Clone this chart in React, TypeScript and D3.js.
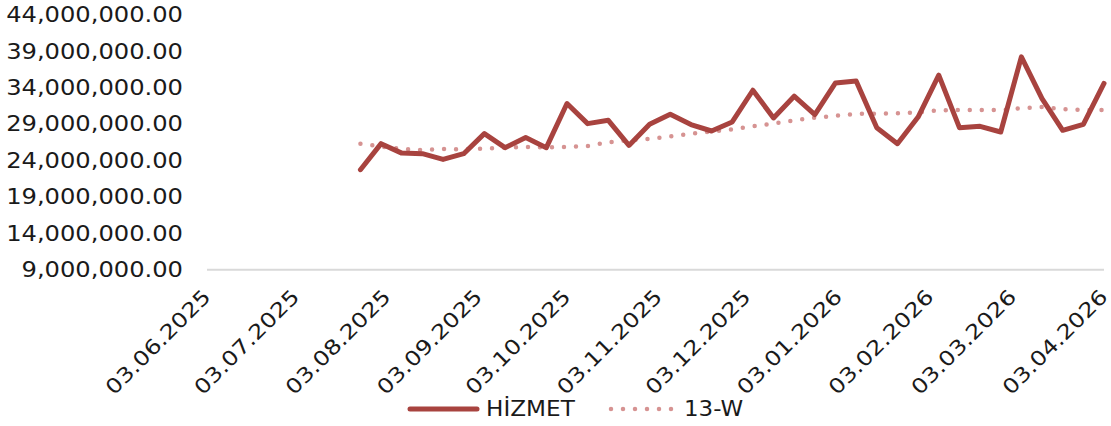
import React from "react";
import * as d3 from "d3";

const dates: string[] = [
  "2025-07-25","2025-08-01","2025-08-08","2025-08-15","2025-08-22","2025-08-29",
  "2025-09-05","2025-09-12","2025-09-19","2025-09-26","2025-10-03","2025-10-10",
  "2025-10-17","2025-10-24","2025-10-31","2025-11-07","2025-11-14","2025-11-21",
  "2025-11-28","2025-12-05","2025-12-12","2025-12-19","2025-12-26","2026-01-02",
  "2026-01-09","2026-01-16","2026-01-23","2026-01-30","2026-02-06","2026-02-13",
  "2026-02-20","2026-02-27","2026-03-06","2026-03-13","2026-03-20","2026-03-27",
  "2026-04-03",
];

const hizmet: number[] = [
  22.74, 26.32, 25.02, 24.94, 24.16, 24.94, 27.70, 25.77, 27.15, 25.77,
  31.83, 29.07, 29.53, 26.08, 28.98, 30.36, 28.94, 28.06, 29.30, 33.66,
  29.85, 32.84, 30.31, 34.67, 34.94, 28.52, 26.32, 29.98, 35.73, 28.52,
  28.70, 27.92, 38.25, 32.52, 28.15, 28.98, 34.59,
].map((v) => v * 1e6);

const w13: number[] = [
  26.32, 25.92, 25.58, 25.44, 25.58, 25.56, 25.64, 25.81, 25.85, 25.81,
  25.86, 26.00, 26.50, 26.80, 26.97, 27.32, 27.70, 27.97, 28.29, 28.73,
  29.09, 29.52, 29.89, 30.15, 30.41, 30.45, 30.48, 30.60, 30.91, 30.95,
  30.95, 30.93, 31.20, 31.36, 31.07, 30.95, 30.95,
].map((v) => v * 1e6);

const xTickLabels: string[] = [
  "03.06.2025","03.07.2025","03.08.2025","03.09.2025","03.10.2025","03.11.2025",
  "03.12.2025","03.01.2026","03.02.2026","03.03.2026","03.04.2026",
];

const yTicks: number[] = [9e6, 14e6, 19e6, 24e6, 29e6, 34e6, 39e6, 44e6];

const seriesNames = ["HİZMET", "13-W"];

const W = 1111;
const H = 426;
const FONT = "'DejaVu Sans', sans-serif";
const MAIN = "#A8433F";
const DOT = "#D69392";
const TEXT = "#1a1a1a";
const SX = 1.18;

const parseIso = d3.utcParse("%Y-%m-%d");
const parseTick = d3.utcParse("%d.%m.%Y");

export default function App() {
  const x = d3
    .scaleUtc()
    .domain([parseTick("03.06.2025")!, parseTick("03.04.2026")!])
    .range([207, 1104]);
  const y = d3.scaleLinear().domain([9e6, 44e6]).range([269.7, 15]);
  const fmt = d3.format(",.2f");

  const line = d3
    .line<number>()
    .x((_, i) => x(parseIso(dates[i])!))
    .y((d) => y(d));

  return (
    <svg
      width={W}
      height={H}
      style={{ position: "absolute", left: 0, top: 0, background: "#fff" }}
      fontFamily={FONT}
    >
      <line x1={207} x2={1104} y1={y(9e6)} y2={y(9e6)} stroke="#D9D9D9" strokeWidth={2} />
      {yTicks.map((t) => (
        <text
          key={t}
          transform={`translate(183 ${y(t)}) scale(${SX} 1)`}
          textAnchor="end"
          dominantBaseline="central"
          fontSize={20.5}
          fill={TEXT}
        >
          {fmt(t)}
        </text>
      ))}
      {xTickLabels.map((l) => {
        const tx = x(parseTick(l)!) + 5;
        const ty = 298;
        return (
          <text
            key={l}
            textAnchor="end"
            fontSize={20.5}
            fill={TEXT}
            transform={`translate(${tx} ${ty}) rotate(-45) scale(${SX} 1)`}
          >
            {l}
          </text>
        );
      })}
      <path
        d={line(w13) || ""}
        fill="none"
        stroke={DOT}
        strokeWidth={4.5}
        strokeLinecap="round"
        strokeDasharray="0 12"
      />
      <path
        d={line(hizmet) || ""}
        fill="none"
        stroke={MAIN}
        strokeWidth={5}
        strokeLinejoin="round"
        strokeLinecap="round"
      />
      <g>
        <line x1={410} x2={477} y1={409} y2={409} stroke={MAIN} strokeWidth={5} strokeLinecap="round" />
        <text
          transform={`translate(486 409) scale(1.13 1)`}
          dominantBaseline="central"
          fontSize={20.5}
          fill={TEXT}
        >
          {seriesNames[0]}
        </text>
        <line x1={611} x2={674} y1={409} y2={409} stroke={DOT} strokeWidth={4.5} strokeLinecap="round" strokeDasharray="0 12" />
        <text
          transform={`translate(684 409) scale(1.12 1)`}
          dominantBaseline="central"
          fontSize={20.5}
          fill={TEXT}
        >
          {seriesNames[1]}
        </text>
      </g>
    </svg>
  );
}
